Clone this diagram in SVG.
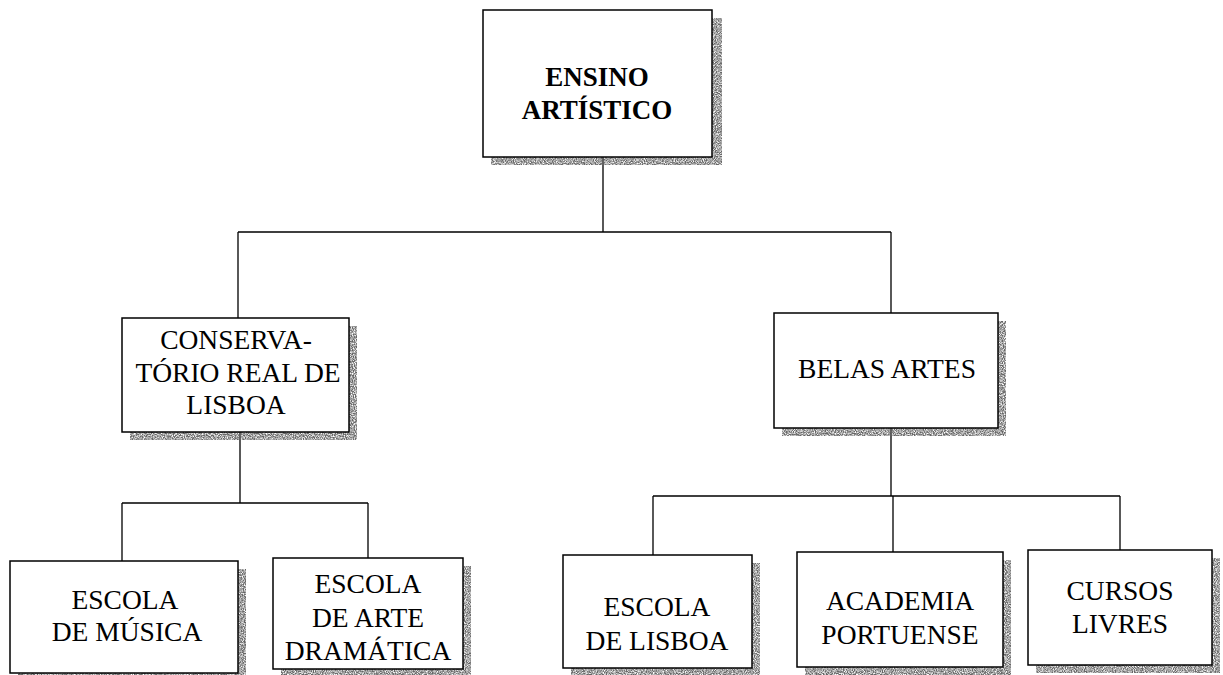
<svg xmlns="http://www.w3.org/2000/svg" width="1223" height="675" viewBox="0 0 1223 675">
<defs>
<filter id="speckle" x="0" y="0" width="100%" height="100%">
<feTurbulence type="fractalNoise" baseFrequency="0.9" numOctaves="2" seed="3" result="n"/>
<feColorMatrix in="n" type="matrix" values="0 0 0 0 0  0 0 0 0 0  0 0 0 0 0  0 0 0 -2.2 1.7" result="a"/>
<feFlood flood-color="#666"/>
<feComposite in2="a" operator="in" result="d"/>
<feComposite in="d" in2="SourceGraphic" operator="in"/>
</filter>
<style>
.box{fill:#fff;stroke:#000;stroke-width:1.5}
.sh{fill:#000;filter:url(#speckle)}
.t{font-family:"Liberation Serif","Times New Roman",serif;font-size:27.5px;fill:#000;text-anchor:middle}
.b{font-weight:bold;font-size:27px}
.c{fill:none;stroke:#000;stroke-width:1.3}
</style>
</defs>
<rect width="1223" height="675" fill="#fff"/>
<g id="connectors">
<path class="c" d="M603 157V232M238 232H891M238 232V318M891 232V313"/>
<path class="c" d="M240 432V503M122 503H368M122 503V561M368 503V558"/>
<path class="c" d="M891 428V496M653 496H1120M653 496V555M893 496V552M1120 496V550"/>
</g>
<g id="n-ensino">
<rect class="sh" x="491" y="18" width="231" height="147"/>
<rect class="box" x="483" y="10" width="229" height="147"/>
<text class="t b" x="597" y="86">ENSINO</text>
<text class="t b" x="597" y="119">ARTÍSTICO</text>
</g>
<g id="n-conservatorio">
<rect class="sh" x="130" y="326" width="227" height="114"/>
<rect class="box" x="122" y="318" width="227" height="114"/>
<text class="t" x="236" y="349">CONSERVA-</text>
<text class="t" x="238" y="382">TÓRIO REAL DE</text>
<text class="t" x="236" y="414">LISBOA</text>
</g>
<g id="n-belas">
<rect class="sh" x="782" y="321" width="224" height="115"/>
<rect class="box" x="774" y="313" width="224" height="115"/>
<text class="t" x="887" y="378">BELAS ARTES</text>
</g>
<g id="n-musica">
<rect class="sh" x="18" y="569" width="228" height="112"/>
<rect class="box" x="10" y="561" width="228" height="112"/>
<text class="t" x="125" y="609">ESCOLA</text>
<text class="t" x="127" y="641">DE MÚSICA</text>
</g>
<g id="n-dramatica">
<rect class="sh" x="281" y="566" width="190" height="111"/>
<rect class="box" x="273" y="558" width="190" height="111"/>
<text class="t" x="368" y="593">ESCOLA</text>
<text class="t" x="368" y="627">DE ARTE</text>
<text class="t" x="368" y="660">DRAMÁTICA</text>
</g>
<g id="n-lisboa">
<rect class="sh" x="571" y="563" width="189" height="113"/>
<rect class="box" x="563" y="555" width="189" height="113"/>
<text class="t" x="657" y="616">ESCOLA</text>
<text class="t" x="657" y="650">DE LISBOA</text>
</g>
<g id="n-academia">
<rect class="sh" x="805" y="560" width="206" height="115"/>
<rect class="box" x="797" y="552" width="206" height="115"/>
<text class="t" x="900" y="610">ACADEMIA</text>
<text class="t" x="900" y="644">PORTUENSE</text>
</g>
<g id="n-cursos">
<rect class="sh" x="1036" y="558" width="184" height="115"/>
<rect class="box" x="1028" y="550" width="184" height="115"/>
<text class="t" x="1120" y="600">CURSOS</text>
<text class="t" x="1120" y="633">LIVRES</text>
</g>
</svg>
